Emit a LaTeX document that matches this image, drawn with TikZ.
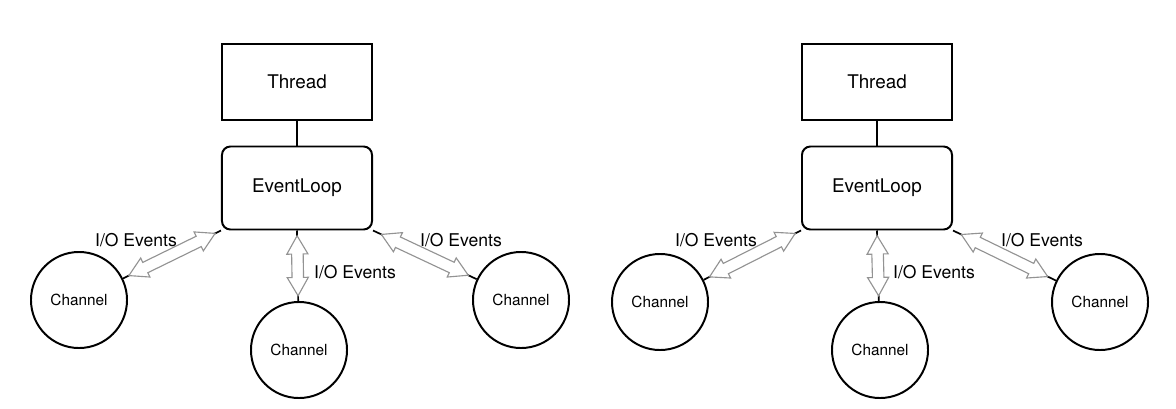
\documentclass[tikz,border=0pt]{standalone}
\usepackage{fontspec}
\setmainfont{TeX Gyre Heros}
\usepackage{tikz}
\usetikzlibrary{shapes.geometric, shapes.arrows, positioning, calc}

\begin{document}
\begin{tikzpicture}[
    x=0.025cm, y=-0.025cm,
    box/.style={rectangle, draw=black, line width=1.4pt, minimum width=3.75cm, minimum height=1.9cm, font=\fontsize{13.4}{15}\selectfont},
    loop/.style={box, rounded corners=6pt, minimum height=2.075cm},
    chan/.style={circle, draw=black, line width=1.4pt, minimum size=2.4cm, inner sep=0pt, font=\fontsize{10.9}{12}\selectfont},
    lbl/.style={font=\fontsize{12.5}{14}\selectfont, inner sep=1pt},
    link/.style={line width=1.2pt},
    darrow/.style={double arrow, draw=gray!85, fill=white, line width=0.8pt, inner sep=0.13cm, minimum width=0.5cm, double arrow head extend=0.12cm, double arrow tip angle=60, minimum height=2.4cm},
    varrow/.style={darrow, minimum height=1.5cm}
]
\useasboundingbox (0,0) rectangle (1176,408);

% Left group
\node[box] (threadA) at (297,82) {Thread};
\node[loop] (loopA) at (297,188) {EventLoop};
\node[chan] (chA1) at (79,300) {Channel};
\node[chan] (chA2) at (299,350) {Channel};
\node[chan] (chA3) at (521,300) {Channel};

\draw[link] (threadA) -- (loopA);
\draw[link] (loopA.south west) -- node[darrow, sloped] {} (chA1);
\draw[link] (loopA.south) -- node[varrow, sloped] {} (chA2);
\draw[link] (loopA.south east) -- node[darrow, sloped] {} (chA3);

\node[lbl] (evA1) at (136,240) {I/O Events};
\node[lbl] (evA2) at (355,272) {I/O Events};
\node[lbl] (evA3) at (461,240) {I/O Events};

% Right group
\node[box] (threadB) at (877,82) {Thread};
\node[loop] (loopB) at (877,188) {EventLoop};
\node[chan] (chB1) at (660,302) {Channel};
\node[chan] (chB2) at (880,350) {Channel};
\node[chan] (chB3) at (1100,302) {Channel};

\draw[link] (threadB) -- (loopB);
\draw[link] (loopB.south west) -- node[darrow, sloped] {} (chB1);
\draw[link] (loopB.south) -- node[varrow, sloped] {} (chB2);
\draw[link] (loopB.south east) -- node[darrow, sloped] {} (chB3);

\node[lbl] (evB1) at (716,240) {I/O Events};
\node[lbl] (evB2) at (934,272) {I/O Events};
\node[lbl] (evB3) at (1042,240) {I/O Events};

\end{tikzpicture}
\end{document}
